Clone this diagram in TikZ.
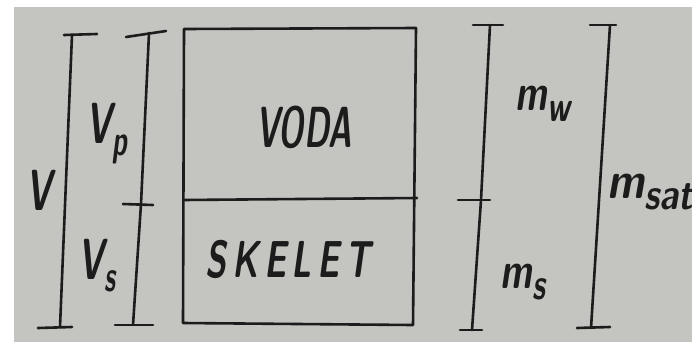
\documentclass[tikz,border=0pt]{standalone}
\definecolor{paper}{RGB}{196,197,192}
\definecolor{ink}{RGB}{28,28,28}
\newcommand{\hsubx}[1]{\raisebox{-0.45ex}{\fontsize{44}{44}\selectfont #1}}
\begin{document}
\begin{tikzpicture}[x=1pt,y=-1pt,
  pen/.style={draw=ink,line width=2.6pt,line cap=round},
  hand/.style={text=ink,inner sep=0pt,font=\fontsize{58}{58}\selectfont\sffamily\bfseries\itshape},
  handsm/.style={text=ink,inner sep=0pt,font=\fontsize{52}{52}\selectfont\sffamily\bfseries\itshape}]
\fill[white] (0,0) rectangle (692,354);
\fill[paper] (14,7) rectangle (692,342);
\useasboundingbox (0,0) rectangle (692,354);
% coordinates
\coordinate (vt) at (72,35); \coordinate (vb) at (60,327);
\coordinate (pt) at (149,33); \coordinate (pm) at (141,204); \coordinate (pb) at (133,325);
\coordinate (bl) at (184,29); \coordinate (br) at (416,28);
\coordinate (bbl) at (183,323); \coordinate (bbr) at (413,325);
\coordinate (dl) at (183,200); \coordinate (dr) at (417,198);
\coordinate (mt) at (490,25); \coordinate (mm) at (481,200); \coordinate (mb) at (472,330);
\coordinate (st) at (610,25); \coordinate (sb) at (591,328);
% V bar
\draw[pen] (vt) -- (vb);
\draw[pen] (64,35) -- (97,34);
\draw[pen] (38,328) -- (72,327);
% Vp / Vs bar
\draw[pen] (pt) -- (pm) -- (pb);
\draw[pen] (126,37) -- (166,31);
\draw[pen] (123,204) -- (153,205);
\draw[pen] (115,325) -- (153,325);
% box
\draw[pen,line join=round] (bl) -- (br) -- (bbr) -- (bbl) -- cycle;
\draw[pen] (dl) -- (dr);
% m bar
\draw[pen] (mt) -- (mm) -- (mb);
\draw[pen] (473,25) -- (503,25);
\draw[pen] (458,200) -- (490,200);
\draw[pen] (460,330) -- (482,330);
% msat bar
\draw[pen] (st) -- (sb);
\draw[pen] (590,25) -- (616,25);
\draw[pen] (577,328) -- (610,327);
% labels
\node[hand] (lV) at (39,190) {\scalebox{0.6}[1]{V}};
\node[hand] (lVp) at (107,134) {\scalebox{0.6}[1]{V\hsubx{p}}};
\node[hand] (lVs) at (97,266) {\scalebox{0.6}[1]{V\hsubx{s}}};
\node[hand] (voda) at (304,127) {\scalebox{0.55}[1]{VODA}};
\node[handsm] (skel) at (288,259) {\scalebox{0.66}[1]{\mdseries\bfseries S\,K\,E\,L\,E\,T}};
\node[handsm] (lmw) at (543,104) {\scalebox{0.7}[1]{m\hsubx{w}}};
\node[handsm] (lms) at (523,282) {\scalebox{0.7}[1]{m\hsubx{s}}};
\begin{scope}
\clip (0,0) rectangle (692,354);
\node[handsm,anchor=west] (lmsat) at (607,192) {\scalebox{0.82}[1]{m\hsubx{sat}}};
\end{scope}
\end{tikzpicture}
\end{document}
